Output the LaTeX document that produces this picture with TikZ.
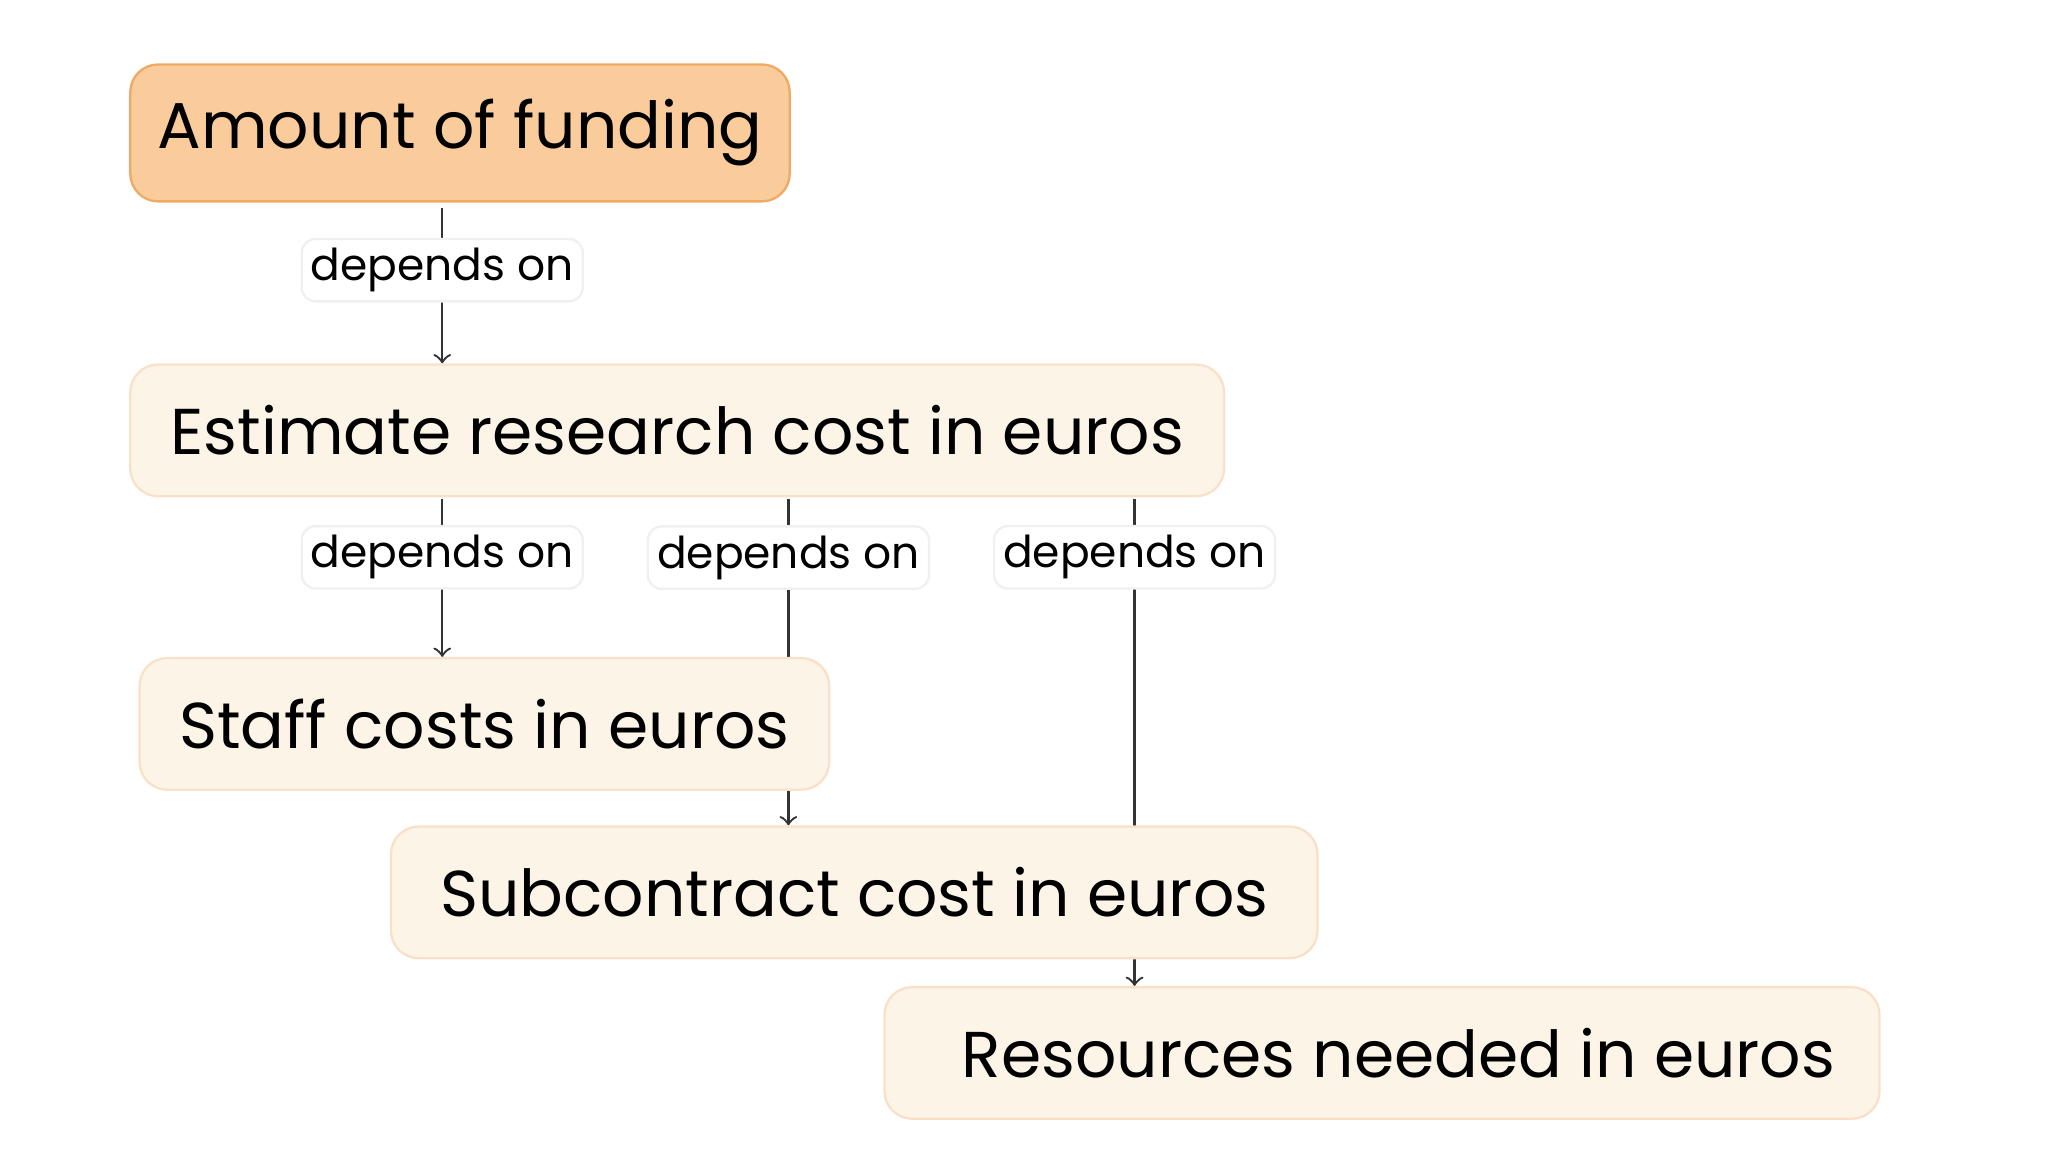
\documentclass[tikz,border=0pt]{standalone}
\usepackage{fontspec}
\setmainfont{Poppins}
\usetikzlibrary{backgrounds}

\definecolor{fundfill}{RGB}{250,204,156}
\definecolor{fundline}{RGB}{238,170,100}
\definecolor{costfill}{RGB}{253,244,232}
\definecolor{costline}{RGB}{248,225,200}

\tikzset{
    costbox/.style={draw=costline, fill=costfill, rounded corners=6pt, line width=0.5pt,
        font=\fontsize{14}{16}\selectfont, inner sep=0pt},
    fundbox/.style={costbox, draw=fundline, fill=fundfill},
    dep/.style={fill=white, draw=black!6, rounded corners=3pt, inner sep=2pt,
        font=\fontsize{9.5}{11}\selectfont},
    link/.style={draw=black!80, line width=0.5pt, -to}
}

\begin{document}
\begin{tikzpicture}[x=1cm, y=-1cm]
\useasboundingbox (0,0) rectangle (15.56,8.87);

% boxes
\node[fundbox, minimum width=5.01cm, minimum height=1.04cm] (fund) at (3.495,1.01) {Amount of funding};
\node[costbox, minimum width=8.31cm, minimum height=1.0cm] (est) at (5.145,3.27) {Estimate research cost in euros};
\node[costbox, minimum width=5.24cm, minimum height=1.0cm] (staff) at (3.68,5.5) {Staff costs in euros};
\node[costbox, minimum width=7.04cm, minimum height=1.0cm] (sub) at (6.49,6.78) {Subcontract cost in euros};
\node[costbox, minimum width=7.56cm, minimum height=1.0cm] (res) at (10.5,8.0) {\hspace{0.25cm}Resources needed in euros};

% connectors
\coordinate (f1) at (3.36,1.58);
\coordinate (e1) at (3.36,3.79);
\coordinate (e2) at (5.99,3.79);
\coordinate (e3) at (8.62,3.79);
\begin{scope}[on background layer]
    \draw[link] (f1) -- (f1 |- est.north) node[dep, pos=0.4] (d1) {depends on};
    \draw[link] (e1) -- (e1 |- staff.north) node[dep, pos=0.37] (d2) {depends on};
    \draw[link] (e2) -- (e2 |- sub.north) node[dep, pos=0.18] (d3) {depends on};
    \draw[link] (e3) -- (e3 |- res.north) node[dep, pos=0.12] (d4) {depends on};
\end{scope}

\end{tikzpicture}
\end{document}
